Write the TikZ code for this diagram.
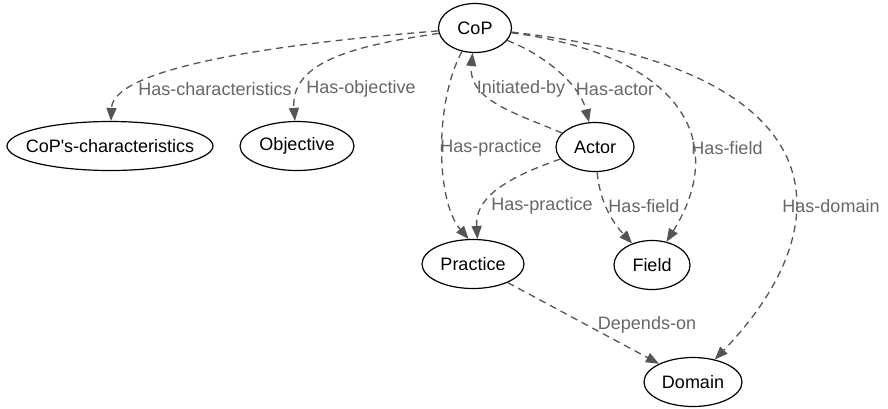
\documentclass[tikz,border=0pt]{standalone}
\usepackage{fontspec}
\setmainfont{Liberation Sans}
\usetikzlibrary{arrows.meta}
\usetikzlibrary{shapes.geometric}

\begin{document}
\begin{tikzpicture}[x=1pt, y=-1pt,
    %Option for nice arrows
    >={Triangle[length=13pt,width=10pt]}, %
    font=\fontsize{18}{20}\selectfont,%
    entity/.style={ellipse, draw=black, line width=1.2pt, inner xsep=-30pt, inner ysep=0pt, minimum height=49pt},
    relation/.style={->, draw=edgegray, line width=1.3pt, dash pattern=on 7pt off 5pt},
    rellabel/.style={text=labelgray, inner sep=0pt},
]
    % Colors
    \definecolor{edgegray}{HTML}{555555}
    \definecolor{labelgray}{HTML}{666666}

    \useasboundingbox (0,0) rectangle (888,408);

    % Entities
    \node[entity, minimum width=73pt]  (cop)       at (475,28)  {CoP};
    \node[entity, minimum width=206pt] (character) at (110,146) {CoP\textquotesingle s-characteristics};
    \node[entity, minimum width=114pt] (objective) at (297,146) {Objective};
    \node[entity, minimum width=78pt]  (actor)     at (595,147) {Actor};
    \node[entity, minimum width=102pt] (practice)  at (473,264) {Practice};
    \node[entity, minimum width=76pt]  (field)     at (652,265) {Field};
    \node[entity, minimum width=98pt]  (domain)    at (693,382) {Domain};

    % Relations
    \draw[relation] (cop) .. controls (260,45) and (113,70) .. (character);
    \draw[relation] (cop) .. controls (360,45) and (290,60) .. (objective);
    \draw[relation] (cop) .. controls (545,55) and (580,85) .. (actor);
    \draw[relation] (actor) .. controls (515,113) and (468,100) .. (cop);
    \draw[relation] (cop) .. controls (435,100) and (435,200) .. (practice.100);
    \draw[relation] (actor) .. controls (500,180) and (475,200) .. (practice.80);
    \draw[relation] (actor) .. controls (600,205) and (615,225) .. (field);
    \draw[relation] (cop) .. controls (680,55) and (730,140) .. (field);
    \draw[relation] (cop) .. controls (850,70) and (840,230) .. (domain);
    \draw[relation] (practice) -- (domain);

    % Labels
    \node[rellabel] (lcharacter) at (215,89)  {Has-characteristics};
    \node[rellabel] (lobjective) at (361,89)  {Has-objective};
    \node[rellabel] (lactor)     at (615,89)  {Has-actor};
    \node[rellabel] (linitiated) at (521,89)  {Initiated-by};
    \node[rellabel] (lpractice)  at (491,148) {Has-practice};
    \node[rellabel] (lpractice2) at (542,206) {Has-practice};
    \node[rellabel] (lfield)     at (644,206) {Has-field};
    \node[rellabel] (lfield2)    at (727,148) {Has-field};
    \node[rellabel] (ldomain)    at (831,206) {Has-domain};
    \node[rellabel] (ldepends)   at (647,325) {Depends-on};
\end{tikzpicture}
\end{document}
